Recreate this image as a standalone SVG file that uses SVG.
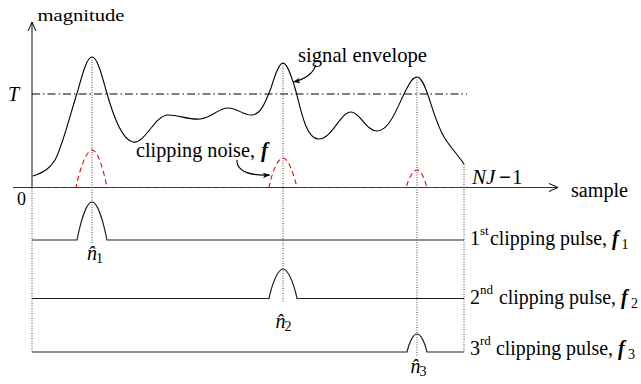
<svg xmlns="http://www.w3.org/2000/svg" width="641" height="384" viewBox="0 0 641 384">
<style>
.it{font-style:italic}
.bi{font-style:italic;font-weight:bold}
.ax{stroke:#333;stroke-width:1.2;fill:none}
.dot{stroke:#444;stroke-width:1;stroke-dasharray:1,1.5;fill:none}
.cur{stroke:#000;stroke-width:1.1;fill:none}
.row{stroke:#222;stroke-width:1.2;fill:none}
.red{stroke:#e00;stroke-width:1.1;stroke-dasharray:5,3.5;fill:none}
</style>
<defs>
<marker id="ah" viewBox="0 0 10 10" refX="9" refY="5" markerWidth="10" markerHeight="10" markerUnits="userSpaceOnUse" orient="auto">
<path d="M0,1 L9,5 L0,9" fill="none" stroke="#000" stroke-width="1"/>
</marker>
<marker id="ahs" viewBox="0 0 10 10" refX="9" refY="5" markerWidth="8" markerHeight="8" markerUnits="userSpaceOnUse" orient="auto">
<path d="M0,1.5 L9,5 L0,8.5 L2.5,5 Z" fill="#000" stroke="none"/>
</marker>
</defs>
<rect width="641" height="384" fill="#fff"/>

<g id="axes">
<line class="ax" x1="32" y1="188" x2="32" y2="22" marker-end="url(#ah)"/>
<line class="ax" x1="13" y1="187.5" x2="558" y2="187.5" marker-end="url(#ah)"/>
<line class="dot" x1="32" y1="188" x2="32" y2="352"/>
<line class="dot" x1="464" y1="164" x2="464" y2="352"/>
</g>

<g id="threshold">
<line x1="32" y1="94" x2="467" y2="94" stroke="#000" stroke-width="1" stroke-dasharray="8,3,1.5,3"/>
</g>

<g id="guides">
<line class="dot" x1="92" y1="57" x2="92" y2="244"/>
<line class="dot" x1="283" y1="63" x2="283" y2="302"/>
<line class="dot" x1="417" y1="77" x2="417" y2="356"/>
</g>

<g id="envelope">
<path class="cur" d="M33,176 C45,172 50,168 55,160 C62,148 70,115 78,90 C83,72 87,57 92,57 C97,57 101,72 106,90 C112,112 122,140 133,142 C145,144 155,115 168,115 C180,115 188,120 200,119 C212,118 218,108 228,108 C238,108 244,116 252,115 C262,114 266,100 271,88 C275,75 279,63 283,63 C287,63 291,75 295,88 C300,105 305,138 318,139 C332,140 340,112 351,112 C360,112 366,131 377,131 C390,131 398,105 406,90 C410,82 413,77 417,77 C421,77 424,84 428,95 C433,110 437,125 444,137 C450,147 458,155 464,164"/>
</g>

<g id="noise">
<path class="red" d="M32,187.5 H76 C79,172 86,150 92,150 C98,150 104,172 107,187.5 H269 C272,172 278,158 283,158 C288,158 293,172 297,187.5 H406 C409,178 413,170 417,170 C421,170 424,178 427,187.5 H464"/>
</g>

<g id="pulse1">
<path class="row" d="M32,240 H77 C80,225 86,202 92,202 C98,202 104,225 107,240 H464"/>
</g>
<g id="pulse2">
<path class="row" d="M32,298.5 H269 C272,284 278,269 283,269 C288,269 294,284 297,298.5 H464"/>
</g>
<g id="pulse3">
<path class="row" d="M32,352 H407 C409,343 413,334 417,334 C421,334 425,343 427,352 H464"/>
</g>

<g id="connectors">
<path class="cur" d="M316,65 C312,76 302,80 293,82" marker-end="url(#ahs)"/>
<path class="cur" d="M237,160 C236,172 252,176 270,175" marker-end="url(#ahs)"/>
</g>

<g id="labels" font-family="'Liberation Serif', 'DejaVu Serif', serif" fill="#000">
<text x="37.5" y="20.5" font-size="16.5" textLength="87" lengthAdjust="spacingAndGlyphs">magnitude</text>
<text x="8" y="100.5" font-size="20" class="it">T</text>
<text x="298" y="61.5" font-size="21" textLength="129" lengthAdjust="spacingAndGlyphs">signal envelope</text>
<text x="136" y="157" font-size="21" textLength="119" lengthAdjust="spacingAndGlyphs">clipping noise,</text>
<text x="261" y="157" font-size="21" class="bi">f</text>
<text x="472" y="184" font-size="21" class="it">NJ</text>
<text x="499" y="184" font-size="21" font-weight="bold">−</text>
<text x="512" y="184" font-size="21">1</text>
<text x="571" y="197" font-size="20" textLength="57" lengthAdjust="spacingAndGlyphs">sample</text>
<text x="17" y="205" font-size="18">0</text>

<text x="87" y="260" font-size="20" class="it">n̂</text>
<text x="96" y="263" font-size="14">1</text>
<text x="275.5" y="328" font-size="20" class="it">n̂</text>
<text x="284.5" y="331" font-size="14">2</text>
<text x="410.5" y="373" font-size="20" class="it">n̂</text>
<text x="419.5" y="376" font-size="14">3</text>

<text x="470" y="245" font-size="20">1</text>
<text x="480" y="235" font-size="13">st</text>
<text x="490" y="245" font-size="20" textLength="117" lengthAdjust="spacingAndGlyphs">clipping pulse,</text>
<text x="612" y="245" font-size="20" class="bi">f</text>
<text x="621.5" y="249" font-size="14">1</text>

<text x="470" y="303.5" font-size="20">2</text>
<text x="480" y="293.5" font-size="13">nd</text>
<text x="499" y="303.5" font-size="20" textLength="117" lengthAdjust="spacingAndGlyphs">clipping pulse,</text>
<text x="621" y="303.5" font-size="20" class="bi">f</text>
<text x="631" y="307.5" font-size="14">2</text>

<text x="470" y="355" font-size="20">3</text>
<text x="480" y="345" font-size="13">rd</text>
<text x="496" y="355" font-size="20" textLength="117" lengthAdjust="spacingAndGlyphs">clipping pulse,</text>
<text x="618" y="355" font-size="20" class="bi">f</text>
<text x="628" y="359" font-size="14">3</text>
</g>
</svg>
